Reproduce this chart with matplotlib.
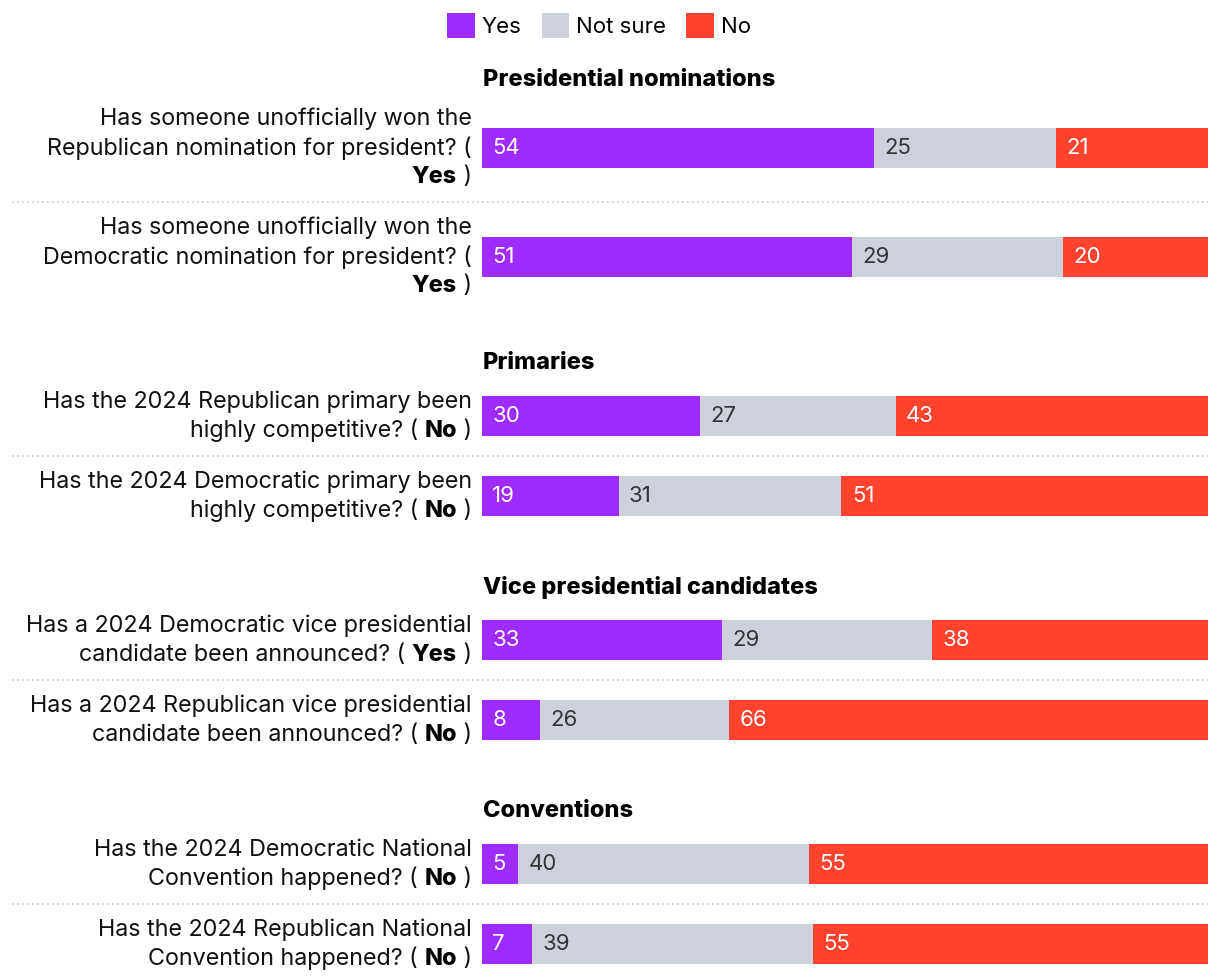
import matplotlib
matplotlib.use("Agg")
import matplotlib.pyplot as plt
from matplotlib.patches import Patch

plt.rcParams['font.family'] = ['Inter', 'DejaVu Sans']

# data
sections = ["Presidential nominations", "Primaries",
            "Vice presidential candidates", "Conventions"]
section_rows = [2, 2, 2, 2]
questions = [
    "Has someone unofficially won the\nRepublican nomination for president? (\n",
    "Has someone unofficially won the\nDemocratic nomination for president? (\n",
    "Has the 2024 Republican primary been\nhighly competitive? ( ",
    "Has the 2024 Democratic primary been\nhighly competitive? ( ",
    "Has a 2024 Democratic vice presidential\ncandidate been announced? ( ",
    "Has a 2024 Republican vice presidential\ncandidate been announced? ( ",
    "Has the 2024 Democratic National\nConvention happened? ( ",
    "Has the 2024 Republican National\nConvention happened? ( ",
]
answers = ["Yes", "Yes", "No", "No", "Yes", "No", "No", "No"]
yes = [54, 51, 30, 19, 33, 8, 5, 7]
not_sure = [25, 29, 27, 31, 29, 26, 40, 39]
no = [21, 20, 43, 51, 38, 66, 55, 55]

series_names = ["Yes", "Not sure", "No"]
colors = ["#A02BFE", "#CDD1DC", "#FF432E"]
text_colors = ["white", "#333333", "white"]

W, H = 1220, 980
fig = plt.figure(figsize=(W / 100, H / 100), dpi=100)
tax = fig.add_axes([0, 0, 1, 1])
tax.set_xlim(0, W)
tax.set_ylim(H, 0)
tax.axis("off")
bax = fig.add_axes([482 / W, 0, 726 / W, 1])
bax.set_xlim(0, 100)
bax.set_ylim(H, 0)
bax.axis("off")

FS = 16.8
LINE = 29
LABEL_X = 472

# vertical layout
header_y = []
row_y = []
cur = 80
qi = 0
for s, n in zip(sections, section_rows):
    header_y.append(cur)
    nl = questions[qi].count("\n") + 1
    cur += 23 + 15 * nl
    for k in range(n):
        nl = questions[qi].count("\n") + 1
        row_y.append(cur)
        if k < n - 1:
            nxt = questions[qi + 1].count("\n") + 1
            cur += 22 + 29 * max(nl, nxt) if nl == 3 else 80
        qi += 1
    cur += 61 + 15 * nl

# section headers
for s, y in zip(sections, header_y):
    tax.text(483, y, s, fontsize=17, fontweight="heavy", va="center",
             ha="left", color="black")

# stacked bars
values = [yes, not_sure, no]
for i, y in enumerate(row_y):
    total = yes[i] + not_sure[i] + no[i]
    left = 0
    for j in range(3):
        w = values[j][i] / total * 100
        bax.barh(y, w, left=left, height=40, color=colors[j], linewidth=0)
        bax.annotate(str(values[j][i]), xy=(left, y), xytext=(7.5, 0),
                     textcoords="offset points", va="center", ha="left",
                     fontsize=16, color=text_colors[j])
        left += w

# separators between rows of a section
start = 0
for n in section_rows:
    for k in range(n - 1):
        ym = (row_y[start + k] + row_y[start + k + 1]) / 2
        tax.plot([12, 1208], [ym, ym], color="#CCCCCC", lw=1.2,
                 linestyle=(0, (1, 2)))
    start += n

# question labels with bold answer
for i, y in enumerate(row_y):
    lines = questions[i].split("\n")
    nl = len(lines)
    for k, ln in enumerate(lines):
        ly = y + (k - (nl - 1) / 2) * LINE
        if k < nl - 1:
            tax.text(LABEL_X, ly, ln, fontsize=FS, ha="right", va="center",
                     color="#111111")
        else:
            t = tax.text(LABEL_X, ly, " )", fontsize=FS, ha="right",
                         va="center", color="#111111")
            t = tax.annotate(answers[i], xy=(0, 0.5), xycoords=t,
                             fontsize=FS, fontweight="heavy", ha="right",
                             va="center", color="black")
            if ln:
                tax.annotate(ln, xy=(0, 0.5), xycoords=t, fontsize=FS,
                             ha="right", va="center", color="#111111")

# legend
handles = [Patch(facecolor=c, edgecolor="none", label=l)
           for c, l in zip(colors, series_names)]
fig.legend(handles=handles, loc="upper center", bbox_to_anchor=(0.491, 1.003),
           ncol=3, frameon=False, fontsize=16, handlelength=1.25,
           handleheight=1.35, handletextpad=0.3, columnspacing=0.9,
           borderaxespad=0.3)

fig.savefig("out.png", dpi=100)
